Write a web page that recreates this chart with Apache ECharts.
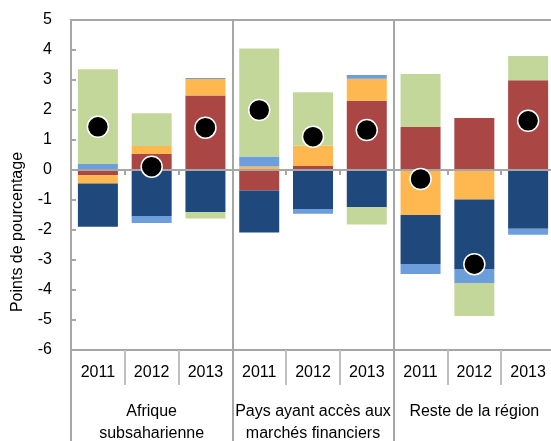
<!DOCTYPE html>
<html>
<head>
<meta charset="utf-8">
<script src="https://cdn.jsdelivr.net/npm/echarts@6/dist/echarts.min.js"></script>
<style>
  html, body { margin: 0; padding: 0; background: #fff; }
  #chart { width: 551px; height: 441px; }
</style>
</head>
<body>
<div id="chart"></div>
<script>
// valeurs (points de pourcentage)
const years = ['2011', '2012', '2013', '2011', '2012', '2013', '2011', '2012', '2013']
const groups = ['Afrique\nsubsaharienne', 'Pays ayant accès aux\nmarchés financiers', 'Reste de la région']

const redValues = [-0.17, 0.53, 2.48, -0.68, 0.13, 2.31, 1.43, 1.73, 2.99]
const orangeValues = [-0.28, 0.27, 0.55, 0.12, 0.69, 0.73, -1.5, -0.98, -0.03]
const darkBlueValues = [-1.44, -1.53, -1.4, -1.4, -1.3, -1.24, -1.63, -2.32, -1.93]
const lightBlueValues = [0.2, -0.24, 0.04, 0.33, -0.16, 0.13, -0.34, -0.47, -0.2]
const greenValues = [3.16, 1.09, -0.22, 3.6, 1.77, -0.58, 1.77, -1.1, 0.81]
const totalValues = [1.44, 0.11, 1.41, 2.0, 1.11, 1.33, -0.3, -3.14, 1.64]

const yTicks = { min: -6, max: 5, interval: 1 }

const font = 'Liberation Sans, Arial, sans-serif'
const gray = '#A6A6A6'

const myChart = echarts.init(document.getElementById('chart'))

function barSeries(name, values, color) {
  return {
    name: name,
    type: 'bar',
    stack: 'total',
    xAxisIndex: 0,
    barWidth: 40,
    data: values,
    itemStyle: { color: color },
    emphasis: { disabled: true }
  }
}

const option = {
  animation: false,
  grid: {
    left: 71,
    right: -4,
    top: 20,
    bottom: 91,
    outerBoundsMode: 'none',
    containLabel: false,
    show: true,
    borderColor: gray,
    borderWidth: 2
  },
  graphic: [
    {
      type: 'text',
      x: 18,
      y: 232,
      rotation: Math.PI / 2,
      style: {
        text: 'Points de pourcentage',
        font: '16px ' + font,
        fill: '#000',
        textAlign: 'center',
        textVerticalAlign: 'middle'
      }
    }
  ],
  xAxis: [
    {
      // axe à zéro
      type: 'category',
      data: years,
      axisLine: { onZero: true, lineStyle: { color: gray, width: 2 } },
      axisTick: { show: true, interval: 0, length: 5, lineStyle: { color: gray, width: 2 } },
      axisLabel: { show: false },
      splitLine: { show: false },
      z: 5
    },
    {
      // années
      type: 'category',
      data: years,
      position: 'bottom',
      axisLine: { onZero: false, lineStyle: { color: gray, width: 2 } },
      axisTick: { show: true, interval: 0, length: 35, lineStyle: { color: '#BFBFBF', width: 2 } },
      axisLabel: { interval: 0, margin: 15, fontSize: 16, fontFamily: font, color: '#000' },
      splitLine: { show: false }
    },
    {
      // groupes
      type: 'category',
      data: groups,
      position: 'bottom',
      axisLine: { show: false, onZero: false },
      axisTick: { show: true, interval: 0, length: 95, lineStyle: { color: gray, width: 2 } },
      axisLabel: { interval: 0, margin: 51, fontSize: 16, lineHeight: 22, fontFamily: font, color: '#000' },
      splitLine: { show: true, interval: 0, lineStyle: { color: gray, width: 2 } }
    }
  ],
  yAxis: {
    type: 'value',
    min: yTicks.min,
    max: yTicks.max,
    interval: yTicks.interval,
    axisLine: { show: true, lineStyle: { color: gray, width: 2 } },
    axisTick: { show: true, inside: true, length: 5, lineStyle: { color: gray, width: 2 } },
    axisLabel: { margin: 19, fontSize: 16, fontFamily: font, color: '#000' },
    splitLine: { show: false }
  },
  series: [
    barSeries('A', redValues, '#AA4644'),
    barSeries('B', orangeValues, '#FFB74F'),
    barSeries('C', darkBlueValues, '#1F497D'),
    barSeries('D', lightBlueValues, '#6C9EDC'),
    barSeries('E', greenValues, '#C4D79B'),
    {
      name: 'Total',
      type: 'scatter',
      xAxisIndex: 0,
      data: totalValues,
      symbolSize: 21,
      itemStyle: { color: '#000', opacity: 1, borderColor: '#fff', borderWidth: 1.5 },
      emphasis: { disabled: true },
      z: 10
    }
  ]
}

myChart.setOption(option)
</script>
</body>
</html>
